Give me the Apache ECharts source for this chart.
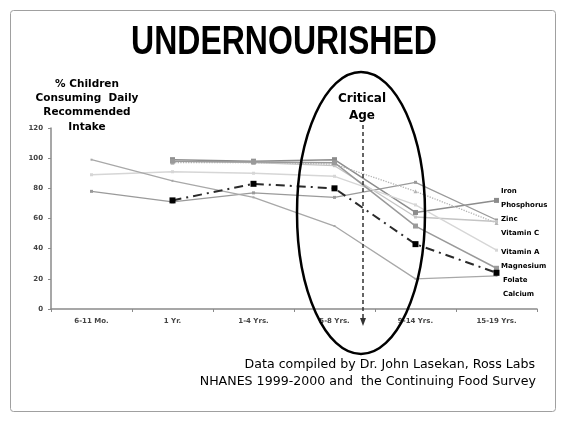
<!DOCTYPE html>
<html lang="en">
<head>
    <meta charset="UTF-8">
    <title>Undernourished</title>
    <style>
        html, body { margin: 0; padding: 0; background: #fff; }
        #main { width: 565px; height: 429px; }
    </style>
</head>
<body>
<div id="main"></div>
<script src="https://cdn.jsdelivr.net/npm/echarts@6/dist/echarts.min.js"></script>
<script>
    // age groups on the x axis
    const ages = ['6-11 Mo.', '1 Yr.', '1-4 Yrs.', '5-8 Yrs.', '9-14 Yrs.', '15-19 Yrs.'];

    // % children meeting the daily recommended intake
    const iron       = [null, 99, 98, 99, 64, 72];
    const phosphorus = [78, 71, 77, 74, 84, 59];
    const zinc       = [null, 97, 97, 96, 78, 57];
    const vitaminC   = [null, 98, 97, 95, 61, 58];
    const vitaminA   = [89, 91, 90, 88, 69, 39];
    const magnesium  = [null, 98, 97.5, 97, 55, 27];
    const folate     = [null, 72, 83, 80, 43, 24];
    const calcium    = [99, 85, 74, 55, 20, 22];

    const nutrients = ['Iron', 'Phosphorus', 'Zinc', 'Vitamin C', 'Vitamin A', 'Magnesium', 'Folate', 'Calcium'];

    const myChart = echarts.init(document.getElementById('main'));

    const small = 'DejaVu Sans';

    function line(name, data, color, opts) {
        opts = opts || {};
        return {
            name: name,
            type: 'line',
            data: data,
            connectNulls: false,
            symbol: opts.symbol || 'rect',
            symbolSize: opts.size || 3,
            showSymbol: true,
            itemStyle: { color: opts.markColor || color },
            lineStyle: { color: color, width: opts.width || 1.3, type: opts.type || 'solid' },
            z: opts.z || 2,
            animation: false
        };
    }

    const option = {
        backgroundColor: '#fff',
        animation: false,
        grid: { left: 51, right: 28, top: 128, bottom: 120 },
        xAxis: {
            type: 'category',
            data: ages,
            axisLine: { lineStyle: { color: '#8a8a8a', width: 1.5 } },
            axisTick: { show: true, length: 3, lineStyle: { color: '#8a8a8a' } },
            axisLabel: { fontFamily: small, fontWeight: 'bold', fontSize: 7, color: '#444', margin: 9 }
        },
        yAxis: {
            type: 'value',
            min: 0, max: 120, interval: 20,
            splitLine: { show: false },
            axisLine: { show: true, lineStyle: { color: '#8a8a8a', width: 1.5 } },
            axisTick: { show: true, length: 3, lineStyle: { color: '#8a8a8a' } },
            axisLabel: { fontFamily: small, fontWeight: 'bold', fontSize: 7, color: '#444', margin: 8 }
        },
        series: [
            line(nutrients[0], iron, '#8c8c8c', { size: 5, width: 1.5 }),
            line(nutrients[1], phosphorus, '#9a9a9a', { size: 3 }),
            line(nutrients[2], zinc, '#b4b4b4', { symbol: 'triangle', size: 4, type: 'dotted', width: 1.3 }),
            line(nutrients[3], vitaminC, '#c4c4c4', { size: 3 }),
            line(nutrients[4], vitaminA, '#d6d6d6', { size: 3 }),
            line(nutrients[5], magnesium, '#9a9a9a', { size: 5, width: 1.5 }),
            line(nutrients[6], folate, '#2a2a2a', { size: 6, width: 2, type: [9, 5, 2, 5], markColor: '#000', z: 5 }),
            line(nutrients[7], calcium, '#a8a8a8', { size: 2 })
        ],
        graphic: [
            // slide frame
            { type: 'rect', shape: { x: 10.5, y: 10.5, width: 545, height: 401, r: 3 },
              style: { fill: 'none', stroke: '#a0a0a0', lineWidth: 1 }, silent: true },
            // slide title, a little taller than the font
            { type: 'text', x: 284, y: 43, scaleX: 0.97, scaleY: 1.22,
              style: { text: 'UNDERNOURISHED', align: 'center', verticalAlign: 'middle',
                       font: 'bold 33px Liberation Sans', fill: '#000' } },
            // y axis title
            { type: 'text', x: 87, y: 77,
              style: { text: '% Children\nConsuming  Daily\nRecommended\nIntake', align: 'center',
                       font: 'bold 10.5px DejaVu Sans', fill: '#000', lineHeight: 14.3 } },
            // critical age ellipse
            { type: 'ellipse', shape: { cx: 361, cy: 213, rx: 64, ry: 141 },
              style: { fill: 'none', stroke: '#000', lineWidth: 2.5 }, z: 10 },
            { type: 'text', x: 362, y: 90,
              style: { text: 'Critical\nAge', align: 'center', font: 'bold 12px DejaVu Sans', fill: '#000', lineHeight: 17 }, z: 10 },
            { type: 'line', shape: { x1: 363, y1: 125, x2: 363, y2: 320 },
              style: { stroke: '#333', lineWidth: 1.5, lineDash: [4, 3] }, z: 10 },
            { type: 'polygon', shape: { points: [[360, 318], [366, 318], [363, 326]] },
              style: { fill: '#333' }, z: 10 },
            // source note
            { type: 'text', x: 535, y: 358,
              style: { text: 'Data compiled by Dr. John Lasekan, Ross Labs', align: 'right', font: '12.6px DejaVu Sans', fill: '#000' } },
            { type: 'text', x: 536, y: 375,
              style: { text: 'NHANES 1999-2000 and  the Continuing Food Survey', align: 'right', font: '12.6px DejaVu Sans', fill: '#000' } }
        ]
    };

    // nutrient names stacked at the right edge
    const labelTop = [188, 202, 216, 230, 249, 263, 277, 291];
    const labelLeft = [501, 501, 501, 501, 501, 501, 503, 503];
    nutrients.forEach(function (n, i) {
        option.graphic.push({
            type: 'text', x: labelLeft[i], y: labelTop[i],
            style: { text: n, font: 'bold 7px DejaVu Sans', fill: '#000' }
        });
    });

    myChart.setOption(option);
</script>
</body>
</html>
